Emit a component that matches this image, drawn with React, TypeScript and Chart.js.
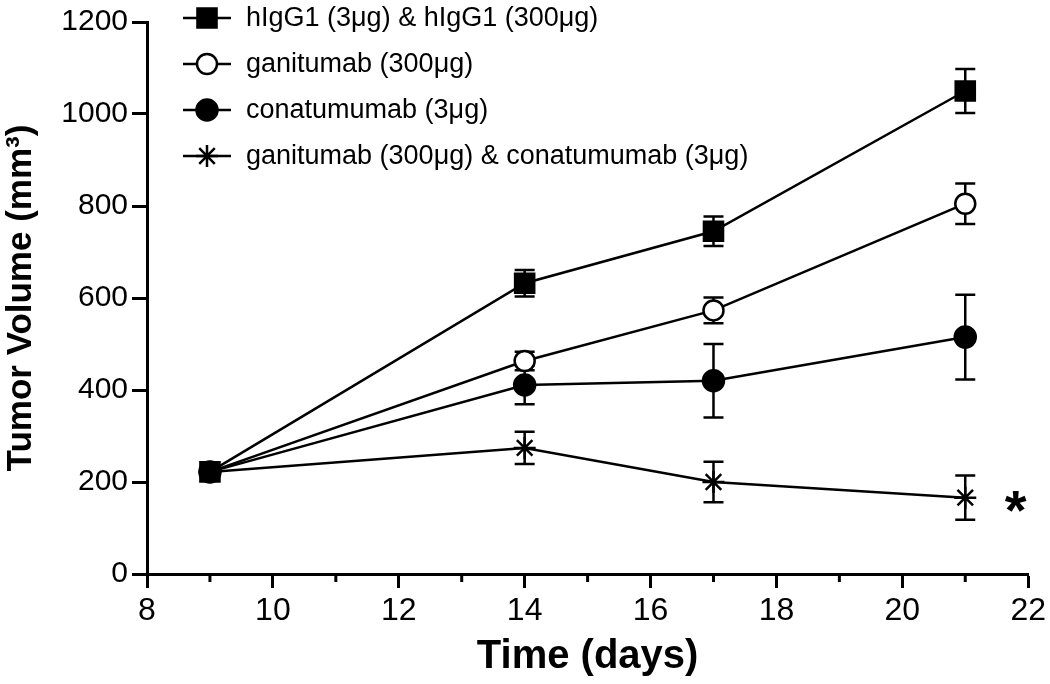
import React, { useEffect, useRef } from 'react';
import { Chart, registerables } from 'chart.js';

Chart.register(...registerables);

// ---- data ----
const days = [9, 14, 17, 21];
const seriesLabels = [
  'hIgG1 (3μg) & hIgG1 (300μg)',
  'ganitumab (300μg)',
  'conatumumab (3μg)',
  'ganitumab (300μg) & conatumumab (3μg)',
];
const hIgG1 = [222, 632, 745, 1050];
const hIgG1Err = [8, 29, 32, 48];
const ganitumab = [222, 463, 573, 805];
const ganitumabErr = [8, 20, 28, 44];
const conatumumab = [222, 411, 420, 515];
const conatumumabErr = [8, 42, 80, 92];
const combo = [222, 274, 200, 166];
const comboErr = [8, 35, 44, 48];
const xTickLabels = [8, 10, 12, 14, 16, 18, 20, 22];
const yTickLabels = [0, 200, 400, 600, 800, 1000, 1200];
const significanceMark = '*';

const values = [hIgG1, ganitumab, conatumumab, combo];
const errors = [hIgG1Err, ganitumabErr, conatumumabErr, comboErr];
const markerStyles = ['rect', 'circle', 'circle', 'star'];
const markerFill = ['#000', '#fff', '#000', '#000'];
const markerRadius = [13.5, 10, 10.5, 11];

const FONT = "'Liberation Sans', Arial, Helvetica, sans-serif";

function drawMarker(ctx: CanvasRenderingContext2D, style: string, x: number, y: number, r: number, fill: string) {
  ctx.save();
  ctx.lineWidth = 2.5;
  ctx.strokeStyle = '#000';
  ctx.fillStyle = fill;
  ctx.beginPath();
  if (style === 'rect') {
    const s = Math.SQRT1_2 * r;
    ctx.rect(x - s, y - s, 2 * s, 2 * s);
    ctx.fill();
    ctx.stroke();
  } else if (style === 'circle') {
    ctx.arc(x, y, r, 0, Math.PI * 2);
    ctx.fill();
    ctx.stroke();
  } else if (style === 'star') {
    for (let k = 0; k < 4; k++) {
      const a = (k * Math.PI) / 4;
      ctx.moveTo(x - Math.cos(a) * r, y - Math.sin(a) * r);
      ctx.lineTo(x + Math.cos(a) * r, y + Math.sin(a) * r);
    }
    ctx.stroke();
  }
  ctx.restore();
}

const extrasPlugin = {
  id: 'extras',
  beforeDatasetsDraw(chart: any) {
    const { ctx } = chart;
    const xs = chart.scales.x;
    const ys = chart.scales.y;
    ctx.save();
    ctx.strokeStyle = '#000';
    ctx.lineWidth = 2.5;
    values.forEach((vals, si) => {
      vals.forEach((v, i) => {
        const e = errors[si][i];
        const px = xs.getPixelForValue(days[i]);
        const top = ys.getPixelForValue(v + e);
        const bot = ys.getPixelForValue(v - e);
        ctx.beginPath();
        ctx.moveTo(px, top);
        ctx.lineTo(px, bot);
        ctx.moveTo(px - 10, top);
        ctx.lineTo(px + 10, top);
        ctx.moveTo(px - 10, bot);
        ctx.lineTo(px + 10, bot);
        ctx.stroke();
      });
    });
    ctx.restore();
  },
  afterDraw(chart: any) {
    const { ctx, chartArea } = chart;
    const xs = chart.scales.x;
    const ys = chart.scales.y;
    ctx.save();
    // minor x ticks
    ctx.strokeStyle = '#000';
    ctx.lineWidth = 3;
    for (let d = 9; d < 22; d += 2) {
      const px = xs.getPixelForValue(d);
      ctx.beginPath();
      ctx.moveTo(px, chartArea.bottom);
      ctx.lineTo(px, chartArea.bottom + 8);
      ctx.stroke();
    }
    // legend
    const lx0 = 183;
    const lx1 = 231;
    const rowY = [18, 64, 110, 156];
    ctx.font = `27px ${FONT}`;
    ctx.textBaseline = 'middle';
    ctx.textAlign = 'left';
    seriesLabels.forEach((lab, i) => {
      const y = rowY[i];
      ctx.strokeStyle = '#000';
      ctx.lineWidth = 2.5;
      ctx.beginPath();
      ctx.moveTo(lx0, y);
      ctx.lineTo(lx1, y);
      ctx.stroke();
      drawMarker(ctx, markerStyles[i], (lx0 + lx1) / 2, y, markerRadius[i], markerFill[i]);
      ctx.fillStyle = '#000';
      ctx.fillText(lab, 246, y + 1);
    });
    // significance mark
    ctx.font = `bold 56px ${FONT}`;
    ctx.textAlign = 'center';
    ctx.textBaseline = 'middle';
    ctx.fillStyle = '#000';
    ctx.fillText(significanceMark, xs.getPixelForValue(21.8), ys.getPixelForValue(combo[3]) + 16);
    ctx.restore();
  },
};

export default function App() {
  const ref = useRef<HTMLCanvasElement | null>(null);
  useEffect(() => {
    if (!ref.current) return;
    const chart = new Chart(ref.current, {
      type: 'line',
      data: {
        datasets: values.map((vals, si) => ({
          label: seriesLabels[si],
          data: vals.map((v, i) => ({ x: days[i], y: v })),
          borderColor: '#000',
          borderWidth: 2.5,
          pointStyle: markerStyles[si] as any,
          pointRadius: markerRadius[si],
          pointHoverRadius: markerRadius[si],
          pointBackgroundColor: markerFill[si],
          pointBorderColor: '#000',
          pointBorderWidth: 2.5,
          tension: 0,
          fill: false,
          clip: false as any,
        })),
      },
      options: {
        responsive: false,
        animation: false,
        layout: { padding: { top: 17, right: 18, left: 0, bottom: 0 } },
        plugins: { legend: { display: false }, tooltip: { enabled: false } },
        scales: {
          x: {
            type: 'linear',
            min: 8,
            max: 22,
            afterFit: (s: any) => { s.height = 110; },
            ticks: {
              stepSize: 1,
              autoSkip: false,
              maxRotation: 0,
              color: '#000',
              padding: 4,
              font: { family: FONT, size: 32 },
              callback: (v: any) => (xTickLabels.includes(Number(v)) ? String(v) : ''),
            },
            grid: {
              drawOnChartArea: false,
              tickLength: 14,
              tickWidth: 3,
              tickColor: (c: any) => (c.tick && Number(c.tick.value) % 2 !== 0 ? 'rgba(0,0,0,0)' : '#000'),
            },
            border: { display: true, width: 3, color: '#000' },
            title: {
              display: true,
              text: 'Time (days)',
              color: '#000',
              font: { family: FONT, size: 40, weight: 'bold' },
              padding: { top: 0, bottom: 3 },
            },
          },
          y: {
            type: 'linear',
            min: 0,
            max: 1200,
            afterFit: (s: any) => { s.width = 147; },
            ticks: {
              stepSize: 200,
              color: '#000',
              padding: 4,
              font: { family: FONT, size: 30 },
              callback: (v: any) => (yTickLabels.includes(Number(v)) ? String(v) : ''),
            },
            grid: { drawOnChartArea: false, tickLength: 15, tickWidth: 3, tickColor: '#000' },
            border: { display: true, width: 3, color: '#000' },
            title: {
              display: true,
              text: 'Tumor Volume (mm³)',
              color: '#000',
              font: { family: FONT, size: 35, weight: 'bold' },
              padding: { top: 0, bottom: 0 },
            },
          },
        },
      },
      plugins: [extrasPlugin],
    });
    return () => chart.destroy();
  }, []);
  return (
    <div style={{ position: 'absolute', left: 0, top: 0, width: 1050, height: 684, background: '#fff' }}>
      <canvas ref={ref} width={1050} height={684} style={{ display: 'block' }} />
    </div>
  );
}
